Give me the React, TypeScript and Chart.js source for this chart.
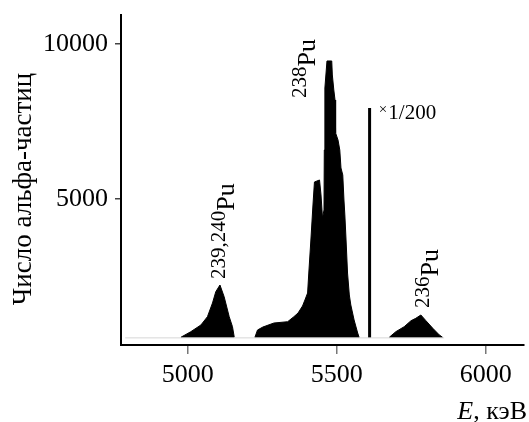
import React, { useEffect, useRef } from "react";
import { Chart, registerables } from "chart.js";

Chart.register(...registerables);

// ---- Data (energies in keV, counts of alpha particles) ----
const peak239Energy = [4977, 5010, 5044, 5066, 5083, 5094, 5108, 5122, 5139, 5150, 5156];
const peak239Counts = [540, 718, 935, 1203, 1645, 2009, 2225, 1848, 1203, 880, 540];

const peak238Energy = [
  5225, 5234, 5252, 5289, 5335, 5356, 5370, 5385, 5393, 5402, 5406, 5413, 5420, 5425, 5442,
  5447, 5452, 5457, 5458, 5460, 5467, 5483, 5485, 5490, 5494, 5496, 5504, 5510, 5514, 5520,
  5524, 5527, 5531, 5536, 5542, 5547, 5558, 5570, 5575,
];
const peak238Counts = [
  532, 774, 870, 999, 1041, 1203, 1322, 1548, 1741, 1967, 2612, 3677, 4806, 5548, 5613,
  5129, 4387, 4645, 6580, 8581, 9452, 9452, 9000, 8516, 8193, 7129, 6903, 6580, 6000, 5774,
  4967, 4484, 3677, 2612, 1903, 1580, 1096, 677, 532,
];

const peak236Energy = [5676, 5698, 5726, 5749, 5765, 5782, 5799, 5822, 5844, 5855];
const peak236Counts = [538, 719, 880, 1074, 1151, 1258, 1074, 829, 613, 538];

const baselineEnergy = [4790, 5860];
const baselineCounts = 520;

const markerEnergy = [5610, 5610];
const markerCounts = [520, 7935];

const xTicks = [5000, 5500, 6000];
const yTicks = [5000, 10000];

const labelMass = ["239,240", "238", "236"];
const labelEnergy = [5155, 5426, 5839];
const labelCounts = [2419, 8258, 1483];

const scaleText = "1/200";
const scaleTextEnergy = 5641;
const scaleTextCounts = 7580;

const yTitle = "Число альфа-частиц";
const FAMILY = "'Liberation Serif', 'Times New Roman', serif";

const pts = (xs: number[], ys: number[]) => xs.map((x, i) => ({ x, y: ys[i] }));

export default function App() {
  const ref = useRef<HTMLCanvasElement>(null);

  useEffect(() => {
    if (!ref.current) return;

    const textPlugin = {
      id: "texts",
      afterDraw(chart: any) {
        const ctx = chart.ctx as CanvasRenderingContext2D;
        const xs = chart.scales.x;
        const ys = chart.scales.y;
        ctx.save();
        ctx.fillStyle = "#000";

        // rotated isotope labels
        labelMass.forEach((m, i) => {
          const px = xs.getPixelForValue(labelEnergy[i]);
          const py = ys.getPixelForValue(labelCounts[i]);
          ctx.save();
          ctx.translate(px, py);
          ctx.rotate(-Math.PI / 2);
          ctx.textAlign = "left";
          ctx.textBaseline = "alphabetic";
          ctx.font = `21px ${FAMILY}`;
          ctx.fillText(m, 0, -9);
          const w = ctx.measureText(m).width;
          ctx.font = `26px ${FAMILY}`;
          ctx.fillText("Pu", w, 0);
          ctx.restore();
        });

        // x1/200
        {
          const px = xs.getPixelForValue(scaleTextEnergy);
          const py = ys.getPixelForValue(scaleTextCounts);
          ctx.textAlign = "left";
          ctx.textBaseline = "alphabetic";
          ctx.font = `15px ${FAMILY}`;
          ctx.fillText("×", px, py - 5);
          const w = ctx.measureText("×").width;
          ctx.font = `21px ${FAMILY}`;
          ctx.fillText(scaleText, px + w + 1, py);
        }

        // x axis title: E, кэВ (right aligned)
        {
          const right = chart.width - 2;
          const base = chart.height - 3;
          ctx.textBaseline = "alphabetic";
          ctx.textAlign = "left";
          ctx.font = `26px ${FAMILY}`;
          const rest = ", кэВ";
          const wr = ctx.measureText(rest).width;
          ctx.font = `italic 26px ${FAMILY}`;
          const we = ctx.measureText("E").width;
          const start = right - wr - we;
          ctx.fillText("E", start, base);
          ctx.font = `26px ${FAMILY}`;
          ctx.fillText(rest, start + we, base);
        }

        // y axis title
        {
          const cy = (chart.chartArea.top + chart.chartArea.bottom) / 2 + 9;
          ctx.save();
          ctx.translate(31, cy);
          ctx.rotate(-Math.PI / 2);
          ctx.textAlign = "center";
          ctx.textBaseline = "alphabetic";
          ctx.font = `27px ${FAMILY}`;
          ctx.fillText(yTitle, 0, 0);
          ctx.restore();
        }
        ctx.restore();
      },
    };

    const peakStyle = {
      borderColor: "#000",
      backgroundColor: "#000",
      borderWidth: 1,
      pointRadius: 0,
      tension: 0,
      fill: { value: baselineCounts },
    };

    const chart = new Chart(ref.current, {
      type: "line",
      data: {
        datasets: [
          {
            data: pts(baselineEnergy, [baselineCounts, baselineCounts]),
            borderColor: "#d6d6d6",
            borderWidth: 1,
            pointRadius: 0,
            fill: false,
          },
          { data: pts(peak239Energy, peak239Counts), ...peakStyle },
          { data: pts(peak238Energy, peak238Counts), ...peakStyle },
          { data: pts(peak236Energy, peak236Counts), ...peakStyle },
          {
            data: pts(markerEnergy, markerCounts),
            borderColor: "#000",
            borderWidth: 3,
            pointRadius: 0,
            fill: false,
          },
        ] as any,
      },
      options: {
        animation: false,
        responsive: false,
        maintainAspectRatio: false,
        layout: { padding: { top: 15, right: 5, left: 0, bottom: 0 } },
        plugins: { legend: { display: false }, tooltip: { enabled: false } },
        scales: {
          x: {
            type: "linear",
            min: 4776,
            max: 6128,
            afterFit: (s: any) => {
              s.height = 77;
              s.paddingLeft = 0;
              s.paddingRight = 0;
            },
            afterBuildTicks: (s: any) => {
              s.ticks = xTicks.map((v) => ({ value: v }));
            },
            grid: { drawOnChartArea: false, drawTicks: true, tickLength: 9, color: "#777", lineWidth: 1.5 },
            border: { display: true, color: "#000", width: 2 },
            ticks: {
              color: "#000",
              font: { family: FAMILY, size: 26 },
              padding: 6,
              maxRotation: 0,
              autoSkip: false,
              callback: (v: any) => String(v),
            },
          },
          y: {
            type: "linear",
            min: 290,
            max: 10935,
            afterFit: (s: any) => {
              s.width = 121;
              s.paddingTop = 0;
              s.paddingBottom = 0;
            },
            afterBuildTicks: (s: any) => {
              s.ticks = yTicks.map((v) => ({ value: v }));
            },
            grid: { drawOnChartArea: false, drawTicks: true, tickLength: 6, color: "#444", lineWidth: 1.5 },
            border: { display: true, color: "#000", width: 2 },
            ticks: {
              color: "#000",
              font: { family: FAMILY, size: 26 },
              padding: 7,
              autoSkip: false,
              callback: (v: any) => String(v),
            },
          },
        },
      } as any,
      plugins: [textPlugin],
    });

    return () => chart.destroy();
  }, []);

  return (
    <div style={{ position: "fixed", left: 0, top: 0, width: 529, height: 422, background: "#fff" }}>
      <canvas ref={ref} width={529} height={422} style={{ width: 529, height: 422, display: "block" }} />
    </div>
  );
}
